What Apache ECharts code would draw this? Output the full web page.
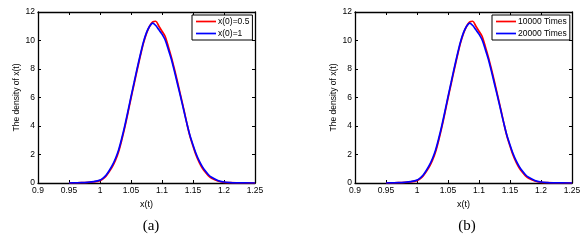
<!DOCTYPE html>
<html><head><meta charset="utf-8">
<script src="https://cdn.jsdelivr.net/npm/echarts@6/dist/echarts.min.js"></script>
<style>html,body{margin:0;padding:0;background:#fff}#c{width:585px;height:240px}</style>
</head><body><div id="c"></div>
<script>
const xTicks = [0.9, 0.95, 1, 1.05, 1.1, 1.15, 1.2, 1.25];
const yTicks = [0, 2, 4, 6, 8, 10, 12];
const xs = [0.95,0.96,0.97,0.98,0.99,1.00,1.005,1.01,1.015,1.02,1.025,1.03,1.035,1.04,1.045,1.05,1.055,1.06,1.065,1.07,1.075,1.08,1.085,1.09,1.095,1.10,1.105,1.11,1.115,1.12,1.125,1.13,1.135,1.14,1.145,1.15,1.155,1.16,1.165,1.17,1.175,1.18,1.19,1.20,1.21,1.22,1.25];
const redY = [0,0.01,0.02,0.04,0.08,0.17,0.3,0.5,0.8,1.15,1.6,2.2,3.0,3.9,4.9,5.95,6.95,7.95,8.9,9.8,10.5,11.0,11.3,11.35,11.0,10.65,10.3,9.6,8.85,8.0,7.1,6.15,5.2,4.2,3.3,2.6,1.95,1.45,1.05,0.75,0.5,0.33,0.14,0.05,0.02,0.01,0];
const blueY = [0,0.01,0.02,0.05,0.1,0.2,0.34,0.56,0.88,1.25,1.72,2.32,3.12,4.02,5.02,6.05,7.05,8.05,9.0,9.88,10.55,11.0,11.22,11.05,10.75,10.45,10.05,9.4,8.7,7.85,6.95,6.05,5.12,4.2,3.35,2.67,2.05,1.55,1.15,0.84,0.58,0.4,0.18,0.07,0.03,0.015,0];
const namesA = ['x(0)=0.5', 'x(0)=1'];
const namesB = ['10000 Times', '20000 Times'];
const panelLabels = ['(a)', '(b)'];
const xName = 'x(t)';
const yName = 'The density of x(t)';

const pair = (ys) => xs.map((x, i) => [x, ys[i]]);
const font = 'Liberation Sans, Arial, sans-serif';
const grids = [
  {left: 38, top: 12, width: 217, height: 171},
  {left: 355, top: 12, width: 217, height: 171}
];
const xAxis = [], yAxis = [];
grids.forEach((g, gi) => {
  const lineStyle = {color: '#000', width: 1.3};
  const tick = {show: true, inside: true, length: 3, lineStyle: {color: '#000', width: 1}};
  xAxis.push({type: 'value', gridIndex: gi, min: 0.9, max: 1.25, interval: 0.05, position: 'bottom',
    axisLine: {show: true, onZero: false, lineStyle}, axisTick: tick, splitLine: {show: false},
    axisLabel: {fontSize: 8.5, color: '#000', fontFamily: font, margin: 3,
      formatter: v => { const t = xTicks.find(k => Math.abs(k - v) < 1e-6); return t === undefined ? '' : String(t); }},
    name: xName, nameLocation: 'middle', nameGap: 16,
    nameTextStyle: {fontSize: 9, color: '#000', fontFamily: font}});
  xAxis.push({type: 'value', gridIndex: gi, min: 0.9, max: 1.25, interval: 0.05, position: 'top',
    axisLine: {show: true, onZero: false, lineStyle}, axisTick: tick, splitLine: {show: false},
    axisLabel: {show: false}});
  yAxis.push({type: 'value', gridIndex: gi, min: 0, max: 12, interval: 2, position: 'left',
    axisLine: {show: true, onZero: false, lineStyle}, axisTick: tick, splitLine: {show: false},
    axisLabel: {fontSize: 8.5, color: '#000', fontFamily: font, margin: 3},
    name: yName, nameLocation: 'middle', nameGap: 17,
    nameTextStyle: {fontSize: 8.5, color: '#000', fontFamily: font}});
  yAxis.push({type: 'value', gridIndex: gi, min: 0, max: 12, interval: 2, position: 'right',
    axisLine: {show: true, onZero: false, lineStyle}, axisTick: tick, splitLine: {show: false},
    axisLabel: {show: false}});
});
const mk = (name, ys, color, gi) => ({
  type: 'line', name, data: pair(ys), xAxisIndex: gi * 2, yAxisIndex: gi * 2,
  showSymbol: false, symbol: 'none', smooth: 0.3, lineStyle: {color, width: 1.7}, itemStyle: {color},
  z: color === '#0000ff' ? 3 : 2, animation: false
});
const legendBase = {orient: 'vertical', top: 15, borderColor: '#000', borderWidth: 1, backgroundColor: '#fff',
  padding: [2, 3, 2, 4], itemGap: 3, itemWidth: 20, itemHeight: 8,
  textStyle: {fontSize: 8.5, color: '#000', fontFamily: font, padding: [0, 0, 0, -3]}, icon: 'path://M0,0L20,0L20,1.7L0,1.7Z'};
const chart = echarts.init(document.getElementById('c'));
chart.setOption({
  animation: false,
  backgroundColor: '#fff',
  grid: grids,
  xAxis, yAxis,
  legend: [
    Object.assign({}, legendBase, {left: 192, data: namesA}),
    Object.assign({}, legendBase, {left: 492, data: namesB})
  ],
  title: [
    {text: panelLabels[0], left: 146, top: 214, textAlign: 'center', textStyle: {fontFamily: 'Liberation Serif, serif', fontSize: 15, fontWeight: 'normal', color: '#000'}},
    {text: panelLabels[1], left: 462, top: 214, textAlign: 'center', textStyle: {fontFamily: 'Liberation Serif, serif', fontSize: 15, fontWeight: 'normal', color: '#000'}}
  ],
  series: [
    mk(namesA[0], redY, '#ff0000', 0), mk(namesA[1], blueY, '#0000ff', 0),
    mk(namesB[0], redY, '#ff0000', 1), mk(namesB[1], blueY, '#0000ff', 1)
  ]
});
</script></body></html>
